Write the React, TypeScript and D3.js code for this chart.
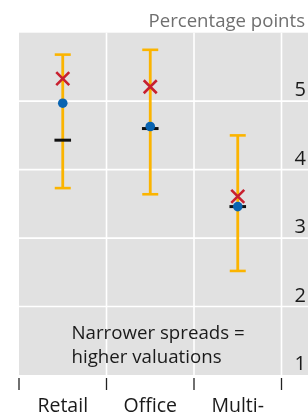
import React, { useRef, useEffect } from 'react';
import * as d3 from 'd3';

const categories = ['Retail', 'Office', 'Multi-family'];
const categoryLabels = ['Retail', 'Office', 'Multi-'];
const rangeHigh = [5.68, 5.75, 4.5];
const rangeLow = [3.73, 3.64, 2.52];
const crossValues = [5.33, 5.21, 3.61];
const dotValues = [4.97, 4.63, 3.46];
const dashValues = [4.43, 4.6, 3.46];
const yTicks = [1, 2, 3, 4, 5];
const yGrid = [2, 3, 4, 5];
const noteLines = ['Narrower spreads =', 'higher valuations'];

const W = 308;
const H = 420;
const FONT = '"Open Sans", "Noto Sans", sans-serif';

const App = () => {
  const ref = useRef<SVGSVGElement>(null);

  useEffect(() => {
    const svg = d3.select(ref.current);
    svg.selectAll('*').remove();

    const left = 19, right = 281.5, top = 32.7, bottom = 375;

    const x = d3.scaleBand().domain(categories).range([left, right]);
    const y = d3.scaleLinear().domain([1, 6]).range([bottom, top]);
    const cx = (i: number) => x(categories[i])! + x.bandwidth() / 2;

    // background panel, runs under the axis labels too
    svg.append('rect')
      .attr('x', left).attr('y', top)
      .attr('width', W - left).attr('height', bottom - top)
      .attr('fill', '#e1e1e1');

    // gridlines
    svg.selectAll('.hgrid').data(yGrid).enter().append('line')
      .attr('x1', left).attr('x2', W)
      .attr('y1', d => y(d)).attr('y2', d => y(d))
      .attr('stroke', '#fff').attr('stroke-width', 1.6);

    const edges = categories.slice(1).map(c => x(c)!).concat([right]);
    svg.selectAll('.vgrid').data(edges).enter().append('line')
      .attr('x1', d => d).attr('x2', d => d)
      .attr('y1', top).attr('y2', bottom)
      .attr('stroke', '#fff').attr('stroke-width', 1.6);

    // y tick labels, sitting just above their gridline
    svg.selectAll('.ylab').data(yTicks).enter().append('text')
      .attr('x', 306).attr('y', d => y(d) - 5)
      .attr('text-anchor', 'end')
      .attr('font-family', FONT).attr('font-size', 20)
      .attr('fill', '#1a1a1a')
      .text(d => d);

    svg.append('text')
      .attr('x', 305).attr('y', 26.5)
      .attr('text-anchor', 'end')
      .attr('font-family', FONT).attr('font-size', 18.6)
      .attr('fill', '#6f6f6f')
      .text('Percentage points');

    // x ticks at band edges
    const tickX = [left].concat(edges);
    svg.selectAll('.xtick').data(tickX).enter().append('line')
      .attr('x1', d => d).attr('x2', d => d)
      .attr('y1', 378).attr('y2', 390)
      .attr('stroke', '#222').attr('stroke-width', 1.3);

    categoryLabels.forEach((t, i) => {
      svg.append('text')
        .attr('x', cx(i)).attr('y', 411.5)
        .attr('text-anchor', 'middle')
        .attr('font-family', FONT).attr('font-size', 19.5)
        .attr('fill', '#1a1a1a')
        .text(t);
    });

    // annotation
    noteLines.forEach((t, j) => {
      svg.append('text')
        .attr('x', 71.5).attr('y', 339.3 + j * 24)
        .attr('font-family', FONT).attr('font-size', 18.7)
        .attr('fill', '#1a1a1a')
        .text(t);
    });

    const orange = '#fbb400';
    categories.forEach((c, i) => {
      const px = cx(i);

      // range bar with caps
      svg.append('line')
        .attr('x1', px).attr('x2', px)
        .attr('y1', y(rangeHigh[i])).attr('y2', y(rangeLow[i]))
        .attr('stroke', orange).attr('stroke-width', 2.8);
      [rangeHigh[i], rangeLow[i]].forEach(v => {
        svg.append('line')
          .attr('x1', px - 8).attr('x2', px + 8)
          .attr('y1', y(v)).attr('y2', y(v))
          .attr('stroke', orange).attr('stroke-width', 2.6);
      });

      // black dash
      svg.append('line')
        .attr('x1', px - 8.3).attr('x2', px + 8.3)
        .attr('y1', y(dashValues[i])).attr('y2', y(dashValues[i]))
        .attr('stroke', '#111').attr('stroke-width', 3);

      // red cross
      const cy = y(crossValues[i]);
      const s = 6.5;
      svg.append('path')
        .attr('d', `M${px - s},${cy - s}L${px + s},${cy + s}M${px - s},${cy + s}L${px + s},${cy - s}`)
        .attr('stroke', '#c8202f').attr('stroke-width', 2.6)
        .attr('fill', 'none');

      // blue dot
      svg.append('circle')
        .attr('cx', px).attr('cy', y(dotValues[i]))
        .attr('r', 4.8)
        .attr('fill', '#0a64b1');
    });
  }, []);

  return (
    <div style={{ position: 'fixed', left: 0, top: 0 }}>
      <svg ref={ref} width={W} height={H} style={{ display: 'block' }}></svg>
    </div>
  );
};

export default App;
